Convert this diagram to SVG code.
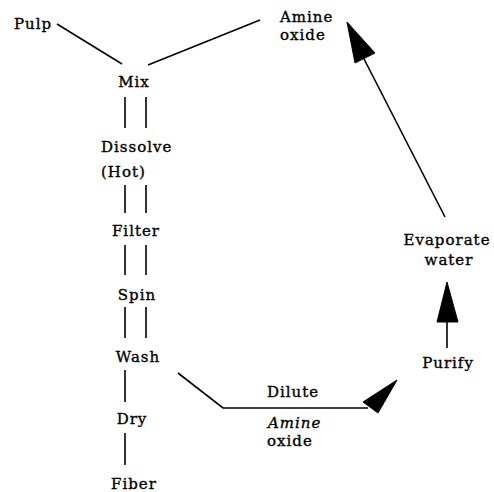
<svg xmlns="http://www.w3.org/2000/svg" width="494" height="492" viewBox="0 0 494 492">
<style>
text{font-family:"DejaVu Serif","Liberation Serif",serif;font-size:15px;fill:#000;stroke:#000;stroke-width:0.35;letter-spacing:1px}
.m{text-anchor:middle}
.it{font-style:italic}
.c line,.c polyline{stroke:#000;stroke-width:1.6;fill:none}
.c polygon{fill:#000;stroke:#000;stroke-width:1}
</style>
<rect width="494" height="492" fill="#fff"/>
<g class="c" id="connectors">
<line x1="57" y1="24" x2="122" y2="64"/>
<line x1="148" y1="65" x2="260" y2="20"/>
<line x1="125" y1="97" x2="125" y2="128"/><line x1="146" y1="97" x2="146" y2="128"/>
<line x1="125" y1="185" x2="125" y2="213"/><line x1="146" y1="185" x2="146" y2="213"/>
<line x1="125" y1="245" x2="125" y2="275"/><line x1="146" y1="245" x2="146" y2="275"/>
<line x1="125" y1="307" x2="125" y2="338"/><line x1="146" y1="307" x2="146" y2="338"/>
<line x1="125" y1="370" x2="125" y2="402"/>
<line x1="125" y1="433" x2="125" y2="465"/>
<polyline points="178,373 223,408 368,408"/>
<polygon points="397,380 363,402 378,413"/>
<line x1="447" y1="322" x2="447" y2="348"/>
<polygon points="447,282 437,322 458,322"/>
<line x1="445" y1="217" x2="362" y2="55"/>
<polygon points="347,22 355,63 375,53"/>
</g>
<g id="pulp"><text x="14" y="29">Pulp</text></g>
<g id="amine-oxide-top"><text x="280" y="22">Amine</text><text x="280" y="40">oxide</text></g>
<g id="mix"><text class="m" x="134" y="87">Mix</text></g>
<g id="dissolve"><text x="101" y="152">Dissolve</text><text x="101" y="177">(Hot)</text></g>
<g id="filter"><text class="m" x="136" y="236">Filter</text></g>
<g id="spin"><text class="m" x="137" y="300">Spin</text></g>
<g id="wash"><text class="m" x="138" y="362">Wash</text></g>
<g id="dry"><text class="m" x="132" y="424">Dry</text></g>
<g id="fiber"><text class="m" x="134" y="489">Fiber</text></g>
<g id="dilute"><text x="267" y="397">Dilute</text></g>
<g id="amine-oxide-bottom"><text class="it" x="268" y="428">Amine</text><text x="267" y="446">oxide</text></g>
<g id="evaporate"><text class="m" x="447" y="245">Evaporate</text><text class="m" x="449" y="265">water</text></g>
<g id="purify"><text class="m" x="448" y="368">Purify</text></g>
</svg>
